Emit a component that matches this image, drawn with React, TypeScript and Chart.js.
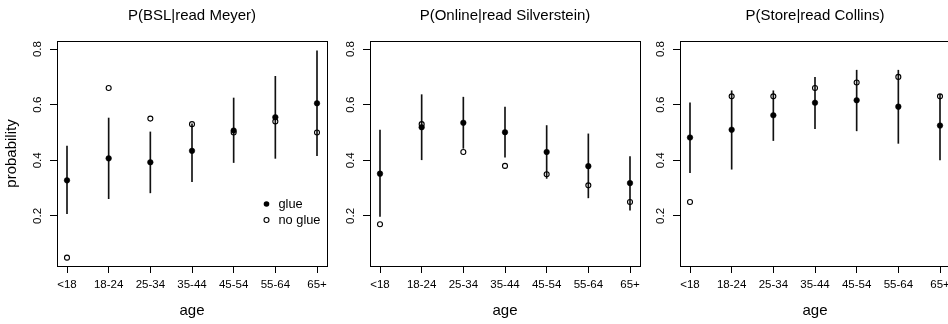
import React, { useEffect, useRef } from 'react';
import { Chart, registerables } from 'chart.js';

Chart.register(...registerables);

// ---------- data ----------
const ageGroups = ['<18', '18-24', '25-34', '35-44', '45-54', '55-64', '65+'];
const yTickValues = [0.2, 0.4, 0.6, 0.8];

const bslTitle = 'P(BSL|read Meyer)';
const bslGlue = [0.328, 0.407, 0.393, 0.434, 0.507, 0.555, 0.605];
const bslLow = [0.208, 0.262, 0.283, 0.323, 0.392, 0.407, 0.417];
const bslHigh = [0.451, 0.552, 0.502, 0.531, 0.624, 0.702, 0.794];
const bslNoGlue = [0.05, 0.66, 0.55, 0.53, 0.5, 0.54, 0.5];

const onlineTitle = 'P(Online|read Silverstein)';
const onlineGlue = [0.352, 0.519, 0.535, 0.501, 0.43, 0.379, 0.318];
const onlineLow = [0.198, 0.402, 0.443, 0.411, 0.335, 0.265, 0.221];
const onlineHigh = [0.509, 0.636, 0.627, 0.591, 0.525, 0.495, 0.413];
const onlineNoGlue = [0.17, 0.53, 0.43, 0.38, 0.35, 0.31, 0.25];

const storeTitle = 'P(Store|read Collins)';
const storeGlue = [0.482, 0.51, 0.562, 0.607, 0.616, 0.593, 0.525];
const storeLow = [0.356, 0.368, 0.471, 0.514, 0.506, 0.461, 0.401];
const storeHigh = [0.607, 0.65, 0.65, 0.698, 0.724, 0.724, 0.637];
const storeNoGlue = [0.25, 0.63, 0.63, 0.66, 0.68, 0.7, 0.63];

const xLabel = 'age';
const yLabel = 'probability';
const glueLabel = 'glue';
const noGlueLabel = 'no glue';

// ---------- styling ----------
const FONT = '"Liberation Sans", Arial, Helvetica, sans-serif';
const CANVAS_W = 384;
const CANVAS_H = 324;

const boxPlugin = {
  id: 'rBox',
  afterDatasetsDraw(chart: any) {
    const { ctx, chartArea: a } = chart;
    ctx.save();
    ctx.strokeStyle = '#000';
    ctx.lineWidth = 1;
    const l = Math.round(a.left) + 0.5;
    const t = Math.round(a.top) + 0.5;
    ctx.strokeRect(l, t, Math.round(a.right) - Math.round(a.left), Math.round(a.bottom) - Math.round(a.top));
    ctx.restore();
  },
};

const insetLegend = {
  id: 'insetLegend',
  afterDraw(chart: any, _args: any, opts: any) {
    if (!opts || !opts.display) return;
    const { ctx, chartArea: a } = chart;
    const items = chart.data.datasets.filter((d: any) => d.type === 'scatter');
    ctx.save();
    ctx.font = `${opts.fontSize}px ${FONT}`;
    ctx.textBaseline = 'middle';
    ctx.textAlign = 'left';
    items.forEach((d: any, i: number) => {
      const x = a.right + opts.offsetX;
      const y = a.bottom + opts.offsetY + i * opts.rowGap;
      ctx.beginPath();
      ctx.arc(x, y, d.pointRadius, 0, Math.PI * 2);
      if (d.pointBackgroundColor !== 'rgba(0,0,0,0)') {
        ctx.fillStyle = '#000';
        ctx.fill();
      } else {
        ctx.strokeStyle = '#000';
        ctx.lineWidth = d.pointBorderWidth;
        ctx.stroke();
      }
      ctx.fillStyle = '#000';
      ctx.fillText(d.label, x + opts.textGap, y);
    });
    ctx.restore();
  },
};

type Panel = {
  title: string;
  glue: number[];
  low: number[];
  high: number[];
  noGlue: number[];
};

const panels: Panel[] = [
  { title: bslTitle, glue: bslGlue, low: bslLow, high: bslHigh, noGlue: bslNoGlue },
  { title: onlineTitle, glue: onlineGlue, low: onlineLow, high: onlineHigh, noGlue: onlineNoGlue },
  { title: storeTitle, glue: storeGlue, low: storeLow, high: storeHigh, noGlue: storeNoGlue },
];

const canvasLefts = [0, 313, 623];

function makeConfig(p: Panel, index: number): any {
  const first = index === 0;
  return {
    type: 'bar',
    data: {
      datasets: [
        {
          type: 'scatter',
          label: glueLabel,
          data: p.glue.map((v, i) => ({ x: i + 1, y: v })),
          pointRadius: 2.8,
          pointBackgroundColor: '#000',
          pointBorderColor: '#000',
          pointBorderWidth: 0.5,
          order: 0,
        },
        {
          type: 'scatter',
          label: noGlueLabel,
          data: p.noGlue.map((v, i) => ({ x: i + 1, y: v })),
          pointRadius: 2.5,
          pointBackgroundColor: 'rgba(0,0,0,0)',
          pointBorderColor: '#000',
          pointBorderWidth: 1.1,
          order: 0,
        },
        {
          type: 'bar',
          label: 'interval',
          data: p.low.map((lo, i) => ({ x: i + 1, y: [lo, p.high[i]] })),
          backgroundColor: '#111',
          borderWidth: 0,
          barThickness: 1,
          order: 1,
        },
      ],
    },
    options: {
      responsive: false,
      animation: false,
      events: [],
      layout: { padding: { left: 0, right: 57, top: 0, bottom: 0 } },
      plugins: {
        legend: { display: false },
        tooltip: { enabled: false },
        title: {
          display: true,
          fullSize: false,
          text: p.title,
          color: '#000',
          font: { family: FONT, size: 15, weight: 'normal', lineHeight: 1.2 },
          padding: { top: 7, bottom: 16 },
        },
        insetLegend: {
          display: first,
          fontSize: 12.8,
          offsetX: -60.5,
          offsetY: -62,
          rowGap: 16,
          textGap: 12,
        },
      },
      scales: {
        x: {
          type: 'linear',
          min: 0.76,
          max: 7.24,
          offset: false,
          afterBuildTicks: (scale: any) => {
            scale.ticks = ageGroups.map((_, i) => ({ value: i + 1 }));
          },
          afterFit: (scale: any) => {
            scale.height = 58;
          },
          ticks: {
            callback: (v: any) => ageGroups[Math.round(Number(v)) - 1],
            color: '#000',
            font: { family: FONT, size: 11.5, lineHeight: 1.2 },
            padding: 5,
            maxRotation: 0,
            minRotation: 0,
            autoSkip: false,
          },
          grid: {
            display: true,
            drawOnChartArea: false,
            drawTicks: true,
            tickLength: 7,
            color: '#000',
            lineWidth: 1,
            offset: false,
          },
          border: { display: false },
          title: {
            display: true,
            text: xLabel,
            color: '#000',
            font: { family: FONT, size: 15, lineHeight: 1.2 },
            padding: { top: 0, bottom: 4 },
          },
        },
        y: {
          type: 'linear',
          min: 0.02,
          max: 0.829,
          beginAtZero: false,
          afterBuildTicks: (scale: any) => {
            scale.ticks = yTickValues.map((v) => ({ value: v }));
          },
          afterFit: (scale: any) => {
            scale.width = 57;
          },
          ticks: {
            callback: (v: any) => Number(v).toFixed(1),
            color: '#000',
            font: { family: FONT, size: 11.5, lineHeight: 1.2 },
            padding: 4,
            minRotation: 90,
            maxRotation: 90,
            crossAlign: 'center',
          },
          grid: {
            display: true,
            drawOnChartArea: false,
            drawTicks: true,
            tickLength: 7,
            color: '#000',
            lineWidth: 1,
          },
          border: { display: false },
          title: {
            display: first,
            text: yLabel,
            color: '#000',
            font: { family: FONT, size: 15, lineHeight: 1.2 },
            padding: { top: 3, bottom: 0 },
          },
        },
      },
    },
    plugins: [boxPlugin, insetLegend],
  };
}

function PanelChart({ panel, index }: { panel: Panel; index: number }) {
  const ref = useRef<HTMLCanvasElement | null>(null);
  useEffect(() => {
    if (!ref.current) return;
    const chart = new Chart(ref.current, makeConfig(panel, index));
    return () => chart.destroy();
  }, [panel, index]);
  return (
    <canvas
      ref={ref}
      width={CANVAS_W}
      height={CANVAS_H}
      style={{
        position: 'absolute',
        left: canvasLefts[index],
        top: 0,
        width: CANVAS_W,
        height: CANVAS_H,
      }}
    />
  );
}

export default function App() {
  return (
    <div
      style={{
        position: 'absolute',
        left: 0,
        top: 0,
        width: 948,
        height: 324,
        overflow: 'hidden',
        background: '#fff',
      }}
    >
      {panels.map((p, i) => (
        <PanelChart key={i} panel={p} index={i} />
      ))}
    </div>
  );
}
